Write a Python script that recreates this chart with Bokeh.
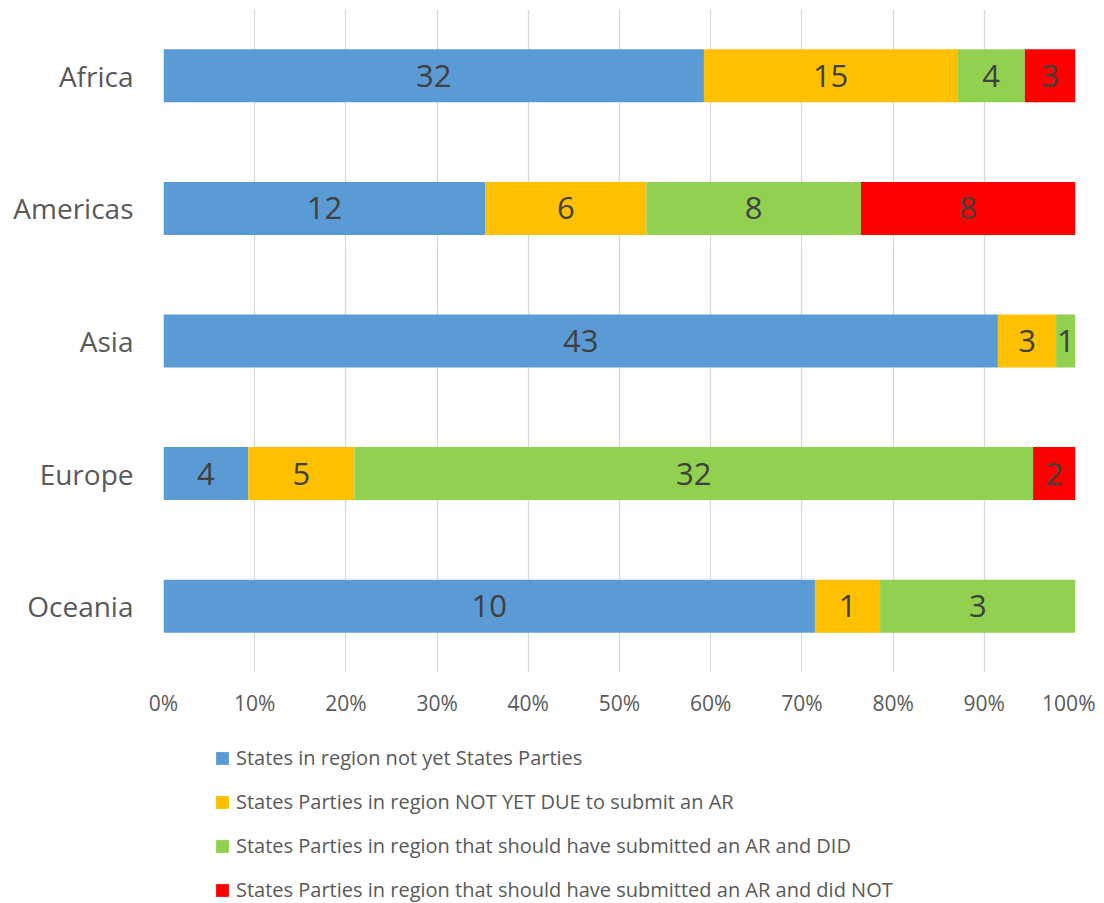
import numpy as np
from bokeh.plotting import figure
from bokeh.layouts import column
from bokeh.models import (ColumnDataSource, FactorRange, Range1d, Legend, LegendItem,
                          FixedTicker)
from bokeh.core.properties import value
from bokeh.embed import file_html
from bokeh.resources import INLINE

regions = ["Africa", "Americas", "Asia", "Europe", "Oceania"]
not_parties = [32, 12, 43, 4, 10]
not_yet_due = [15, 6, 3, 5, 1]
submitted_did = [4, 8, 1, 32, 3]
submitted_not = [3, 8, 0, 2, 0]
series_names = [
    "States in region not yet States Parties",
    "States Parties in region NOT YET DUE to submit an AR",
    "States Parties in region that should have submitted an AR and DID",
    "States Parties in region that should have submitted an AR and did NOT",
]
colors = ["#5B9BD5", "#FFC000", "#92D050", "#FF0000"]
tick_values = [0, 10, 20, 30, 40, 50, 60, 70, 80, 90, 100]
tick_labels = ["0%", "10%", "20%", "30%", "40%", "50%", "60%", "70%", "80%", "90%", "100%"]

FONT = "Open Sans"

counts = np.array([not_parties, not_yet_due, submitted_did, submitted_not], dtype=float)
totals = counts.sum(axis=0)
pct = counts / totals * 100.0
keys = ["s0", "s1", "s2", "s3"]
data = {"region": regions}
for k, row in zip(keys, pct):
    data[k] = row
src = ColumnDataSource(data)

# label positions (segment centers)
cum = np.cumsum(pct, axis=0)
starts = cum - pct
lx, ly, lt = [], [], []
for i in range(4):
    for j, r in enumerate(regions):
        if counts[i, j] > 0:
            lx.append((starts[i, j] + cum[i, j]) / 2)
            ly.append(r)
            lt.append(str(int(counts[i, j])))
lsrc = ColumnDataSource(dict(x=lx, y=ly, t=lt))

p = figure(y_range=FactorRange(factors=regions[::-1]), x_range=Range1d(0, 100),
           frame_width=912, frame_height=663,
           output_backend="svg", toolbar_location=None,
           min_border_left=163, min_border_right=20, min_border_top=9, min_border_bottom=60)
p.y_range.range_padding = 0
p.outline_line_color = None
p.background_fill_color = "white"

rs = p.hbar_stack(keys, y="region", height=0.4, color=colors, line_color=None, source=src)

p.text(x="x", y="y", text="t", source=lsrc, text_align="center", text_baseline="middle",
       text_font=value(FONT), text_font_size="31px", text_color="#404040")

p.xgrid.grid_line_color = "#D9D9D9"
p.xgrid.grid_line_width = 1.3
p.ygrid.grid_line_color = None
p.xaxis.ticker = FixedTicker(ticks=tick_values)
p.xaxis.major_label_overrides = {v: l for v, l in zip(tick_values, tick_labels)}
for ax in (p.xaxis[0], p.yaxis[0]):
    ax.axis_line_color = None
    ax.major_tick_line_color = None
    ax.minor_tick_line_color = None
    ax.major_label_text_font = FONT
    ax.major_label_text_color = "#595959"
p.xaxis.major_label_text_font_size = "21px"
p.xaxis.major_label_standoff = 10
p.yaxis.major_label_text_font_size = "28px"
p.yaxis.major_label_standoff = 24

# Legend panel below the chart (bars drawn out of view, used only for legend swatches)
p2 = figure(y_range=FactorRange(factors=regions), x_range=Range1d(-200, -100),
            frame_width=1095, frame_height=171,
            output_backend="svg", toolbar_location=None,
            min_border_left=0, min_border_right=0, min_border_top=0, min_border_bottom=0)
p2.axis.visible = False
p2.grid.visible = False
p2.outline_line_color = None
rs2 = p2.hbar_stack(keys, y="region", height=0.4, color=colors, line_color=None, source=src)

legend = Legend(items=[LegendItem(label=n, renderers=[r]) for n, r in zip(series_names, rs2)],
                orientation="vertical", location=(214, 0),
                glyph_width=16, glyph_height=16, label_standoff=6, spacing=17,
                label_height=20, label_text_font=FONT, label_text_font_size="20px",
                label_text_color="#595959", padding=0, margin=0,
                border_line_color=None, background_fill_alpha=0)
p2.add_layout(legend, "center")

layout = column(p, p2, spacing=0)
open("out.html", "w").write(file_html(layout, INLINE))
